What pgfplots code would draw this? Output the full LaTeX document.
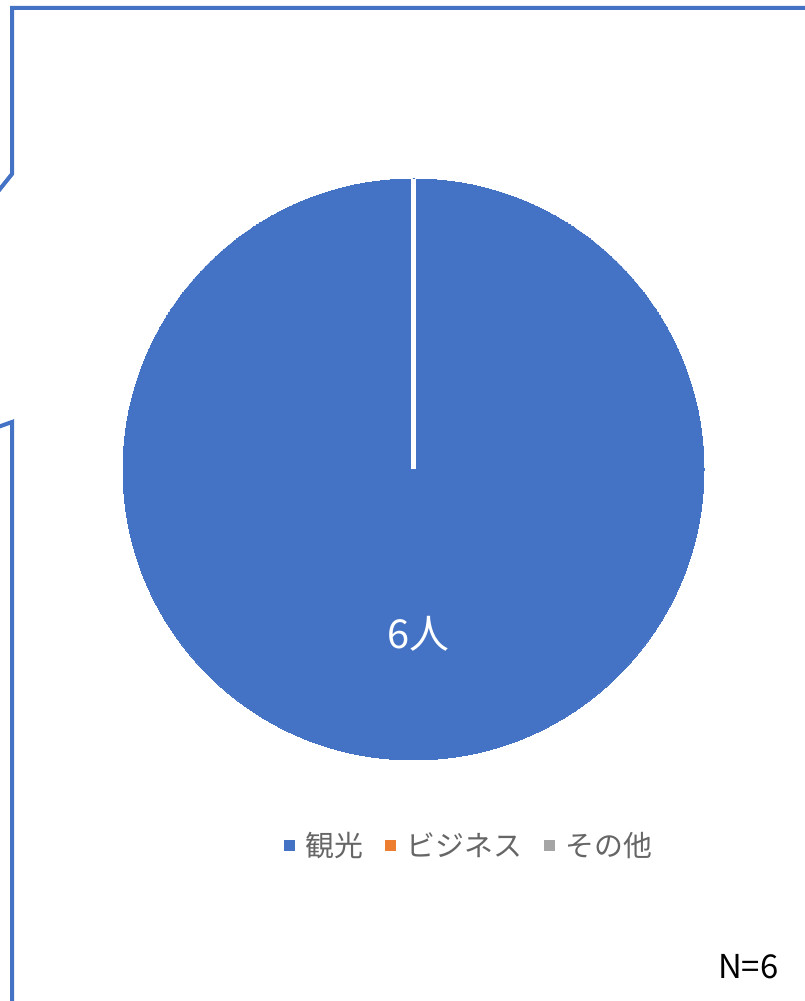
\documentclass[border=0pt]{standalone}
\usepackage{fontspec}
\setmainfont{Noto Sans CJK JP}
\usepackage{pgfplots}
\usepackage{pgfplotstable}
\pgfplotsset{compat=1.18}
\definecolor{pieblue}{HTML}{4472C4}
\definecolor{pieorange}{HTML}{ED7D31}
\definecolor{piegray}{HTML}{A5A5A5}
\definecolor{legtext}{HTML}{666666}
\definecolor{frame}{HTML}{4472C4}
% values: kanko, business, sonota
\pgfplotstableread{
x y value
0 0 6
0 0 0
0 0 0
}\piedata
\pgfplotsset{pieaxis/.style={
  at={(123bp,241bp)}, anchor=south west,
  scale only axis, width=581bp, height=581bp,
  xmin=-1, xmax=1, ymin=-1, ymax=1,
  hide axis, clip=false}}
\begin{document}
\begin{tikzpicture}
\useasboundingbox (0,0) rectangle (805bp,1001bp);
\fill[white] (0,0) rectangle (805bp,1001bp);
\draw[frame, line width=4bp, line join=miter] (-2bp,809.5bp) -- (12bp,827bp) -- (12bp,993bp) -- (808bp,993bp);
\draw[frame, line width=4bp, line join=miter] (-2bp,574bp) -- (12bp,579bp) -- (12bp,-3bp);
\begin{axis}[pieaxis,
  legend columns=-1,
  legend image code/.code={\fill[#1] (0bp,-5bp) rectangle (10bp,5bp);},
  legend style={draw=none, fill=none, at={(0.277,-0.1463)}, anchor=west,
    inner sep=0pt, outer sep=0pt,
    font=\fontsize{29}{32}\selectfont\color{legtext},
    nodes={inner sep=0pt},
    /tikz/every odd column/.append style={column sep=11bp},
    /tikz/every even column/.append style={column sep=22bp}},
]
\addplot[pieblue, only marks, mark=*, mark size=290.5bp, mark options={fill=pieblue, draw=pieblue, line width=0pt}, forget plot]
  table[x=x, y=y, restrict expr to domain={\thisrow{value}}{0.5:1000}] {\piedata};
\addlegendimage{pieblue}
\addlegendentry{観光}
\addlegendimage{pieorange}
\addlegendentry{ビジネス}
\addlegendimage{piegray}
\addlegendentry{その他}
\end{axis}
\begin{axis}[pieaxis]
\addplot[white, line width=5bp, forget plot] coordinates {(0,0) (0,1)};
\node[white, anchor=base, font=\fontsize{40}{44}\selectfont] at (axis cs:0.0155,-0.6162) {6人};
\end{axis}
\node[anchor=base east, font=\fontsize{33}{36}\selectfont] at (782bp,23bp) {N=6};
\end{tikzpicture}
\end{document}
